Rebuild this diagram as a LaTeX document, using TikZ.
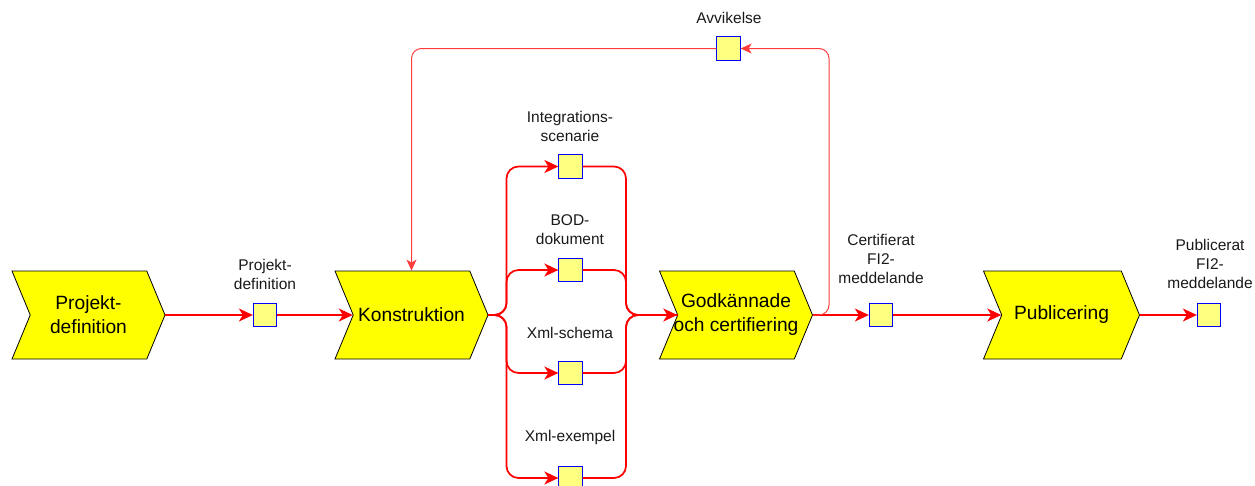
\documentclass[tikz,border=0pt]{standalone}
\usepackage{fontspec}
\setmainfont{Liberation Sans}
\usetikzlibrary{shapes.symbols,arrows.meta}
\definecolor{procyellow}{RGB}{255,255,0}
\definecolor{docyellow}{RGB}{255,255,128}
\definecolor{docblue}{RGB}{0,0,255}
\definecolor{flowred}{RGB}{255,0,0}
\definecolor{backred}{RGB}{255,60,60}
\newcommand\proctext{\fontsize{19.2pt}{24pt}\selectfont}
\newcommand\labtext{\fontsize{15.5pt}{19pt}\selectfont}
\tikzset{
  proc/.style={signal, signal from=west, signal to=east, signal pointer angle=135,
    draw=black, line width=0.8pt, fill=procyellow, minimum width=153pt,
    minimum height=88pt, inner sep=0pt, align=center, font=\proctext},
  doc/.style={rectangle, draw=docblue, fill=docyellow, line width=0.8pt,
    minimum size=23.5pt, inner sep=0pt},
  lab/.style={align=center, font=\labtext, text=black!90, inner sep=0pt},
  flow/.style={draw=flowred, line width=1.7pt, rounded corners=12pt},
  tip/.style={-{Stealth[length=14pt,width=13pt,inset=4pt]}},
  back/.style={draw=backred, line width=1pt, rounded corners=10pt,
    -{Stealth[length=11pt,width=10pt,inset=3pt]}}
}
\begin{document}
\begin{tikzpicture}[x=1pt,y=-1pt]
\useasboundingbox (0,0) rectangle (1255,485);

% process steps
\node[proc] (P)   at (88.5,315)  {Projekt-\\definition};
\node[proc] (K)   at (411.5,315) {Konstruktion};
\node[proc] (G)   at (736,315)   {\makebox[0pt]{Godkännade}\\\makebox[0pt]{och certifiering}};
\node[proc, minimum width=156pt] (Pub) at (1061.5,315) {Publicering};

% documents
\node[doc] (bP)  at (265,315)   {};
\node[doc] (bA)  at (728.5,48.5) {};
\node[doc] (bI)  at (570.5,166.5) {};
\node[doc] (bB)  at (570.5,270) {};
\node[doc] (bX)  at (570.5,373) {};
\node[doc] (bE)  at (570.5,478) {};
\node[doc] (bC)  at (881,315)   {};
\node[doc] (bPu) at (1209,315)  {};

% document labels
\node[lab] (lP)  at (265,274)  {Projekt-\\definition};
\node[lab] (lA)  at (729,18)   {Avvikelse};
\node[lab] (lI)  at (570,126)  {Integrations-\\scenarie};
\node[lab] (lB)  at (570,229.5){BOD-\\dokument};
\node[lab] (lX)  at (570,333)  {Xml-schema};
\node[lab] (lE)  at (570,437)  {Xml-exempel};
\node[lab] (lC)  at (881,259)  {Certifierat\\FI2-\\meddelande};
\node[lab] (lPu) at (1210,264) {Publicerat\\FI2-\\meddelande};

% branch and merge points
\coordinate (split) at (506.5,315);
\coordinate (merge) at (626,315);
\coordinate (fbLow) at (829,315);
\coordinate (fbTop) at (829,48.5);

% main flow
\draw[flow, tip] (P.east) -- (bP);
\draw[flow, tip] (bP) -- (K.west);
\draw[flow, tip] (K.east) -- (split) |- (bI);
\draw[flow, tip] (K.east) -- (split) |- (bB);
\draw[flow, tip] (K.east) -- (split) |- (bX);
\draw[flow, tip] (K.east) -- (split) |- (bE);
\draw[flow] (bI) -| (merge) -- (G.west);
\draw[flow] (bB) -| (merge) -- (G.west);
\draw[flow] (bX) -| (merge) -- (G.west);
\draw[flow, tip] (bE) -| (merge) -- (G.west);
\draw[flow, tip] (G.east) -- (bC);
\draw[flow, tip] (bC) -- (Pub.west);
\draw[flow, tip] (Pub.east) -- (bPu);

% deviation loop back to construction
\draw[back] (G.east) -- (fbLow) -- (fbTop) -- (bA);
\draw[back] (bA) -| (K.north);
\end{tikzpicture}
\end{document}
